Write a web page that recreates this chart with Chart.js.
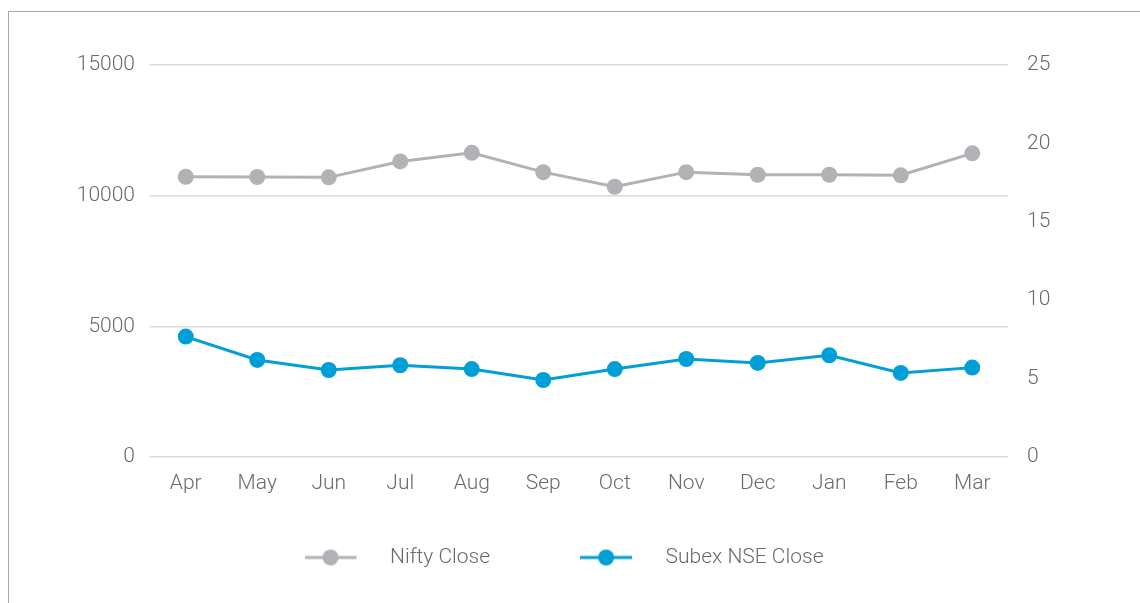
<!DOCTYPE html>
<html>
<head>
<meta charset="utf-8">
<script src="https://cdn.jsdelivr.net/npm/chart.js@4/dist/chart.umd.min.js"></script>
<style>
  html, body { margin: 0; padding: 0; background: #fff; overflow: hidden; }
  #wrap { position: relative; width: 1140px; height: 603px; }
  #frame {
    position: absolute; left: 8px; top: 11px; width: 1200px; height: 700px;
    border-left: 1.5px solid #a8a8a8; border-top: 1.5px solid #a8a8a8;
  }
  canvas { position: absolute; left: 0; top: 0; }
</style>
</head>
<body>
<div id="wrap">
  <div id="frame"></div>
  <canvas id="chart" width="1140" height="603"></canvas>
</div>
<script>
const months = ["Apr", "May", "Jun", "Jul", "Aug", "Sep", "Oct", "Nov", "Dec", "Jan", "Feb", "Mar"];
const niftyClose = [10720, 10715, 10700, 11310, 11640, 10900, 10340, 10900, 10800, 10800, 10780, 11620];
const subexClose = [7.68, 6.19, 5.55, 5.85, 5.61, 4.91, 5.61, 6.25, 6.0, 6.49, 5.36, 5.7];
const leftTicks = [0, 5000, 10000, 15000];
const rightTicks = [0, 5, 10, 15, 20, 25];

const GREY = "#b1b2b6";
const BLUE = "#009fd7";
const TEXT = "#6a6a6a";
const FONT = "Roboto, 'Open Sans', sans-serif";

// line + dot marker used as the legend point style
function legendMarker(color) {
  const c = document.createElement("canvas");
  c.width = 75;
  c.height = 20;
  const ctx = c.getContext("2d");
  ctx.strokeStyle = color;
  ctx.lineWidth = 3;
  ctx.beginPath();
  ctx.moveTo(0, 10);
  ctx.lineTo(52, 10);
  ctx.stroke();
  ctx.fillStyle = color;
  ctx.beginPath();
  ctx.arc(26, 10, 8, 0, Math.PI * 2);
  ctx.fill();
  return c;
}

const markers = [legendMarker(GREY), legendMarker(BLUE)];

new Chart(document.getElementById("chart"), {
  type: "line",
  data: {
    labels: months,
    datasets: [
      {
        label: "Nifty Close",
        data: niftyClose,
        yAxisID: "y",
        borderColor: GREY,
        backgroundColor: GREY,
        borderWidth: 3,
        pointRadius: 8,
        pointBackgroundColor: GREY,
        pointBorderWidth: 0,
        tension: 0,
      },
      {
        label: "Subex NSE Close",
        data: subexClose,
        yAxisID: "y1",
        borderColor: BLUE,
        backgroundColor: BLUE,
        borderWidth: 3,
        pointRadius: 8,
        pointBackgroundColor: BLUE,
        pointBorderWidth: 0,
        tension: 0,
      },
    ],
  },
  options: {
    responsive: false,
    animation: false,
    layout: { padding: { top: 65, left: 0, right: 12, bottom: 25 } },
    plugins: {
      tooltip: { enabled: false },
      legend: {
        position: "bottom",
        labels: {
          usePointStyle: true,
          pointStyleWidth: 75,
          padding: 90,
          color: TEXT,
          font: { family: FONT, size: 21, weight: 300 },
          generateLabels(chart) {
            return chart.data.datasets.map((ds, i) => ({
              text: ds.label,
              pointStyle: markers[i],
              fillStyle: ds.borderColor,
              strokeStyle: ds.borderColor,
              lineWidth: 0,
              fontColor: TEXT,
              datasetIndex: i,
              hidden: false,
            }));
          },
        },
      },
    },
    scales: {
      x: {
        offset: true,
        grid: { display: false, drawTicks: false },
        border: { display: false },
        ticks: {
          color: TEXT,
          mirror: true,
          padding: -39,
          font: { family: FONT, size: 21, weight: 300 },
          maxRotation: 0,
        },
        afterFit(scale) {
          scale.height = 0;
        },
      },
      y: {
        position: "left",
        min: 0,
        max: 15000,
        afterBuildTicks(scale) {
          scale.ticks = leftTicks.map((v) => ({ value: v }));
        },
        grid: { color: "#d9d9d9", lineWidth: 1.5, drawTicks: false },
        border: { display: false },
        ticks: {
          color: TEXT,
          padding: 15,
          font: { family: FONT, size: 21, weight: 300 },
          callback: (v) => String(v),
        },
        afterFit(scale) {
          scale.width = 150;
        },
      },
      y1: {
        position: "right",
        min: 0,
        max: 25,
        afterBuildTicks(scale) {
          scale.ticks = rightTicks.map((v) => ({ value: v }));
        },
        grid: { display: false, drawTicks: false },
        border: { display: false },
        ticks: {
          color: TEXT,
          padding: 19,
          font: { family: FONT, size: 21, weight: 300 },
          callback: (v) => String(v),
        },
        afterFit(scale) {
          scale.width = 120;
        },
      },
    },
  },
});
</script>
</body>
</html>
